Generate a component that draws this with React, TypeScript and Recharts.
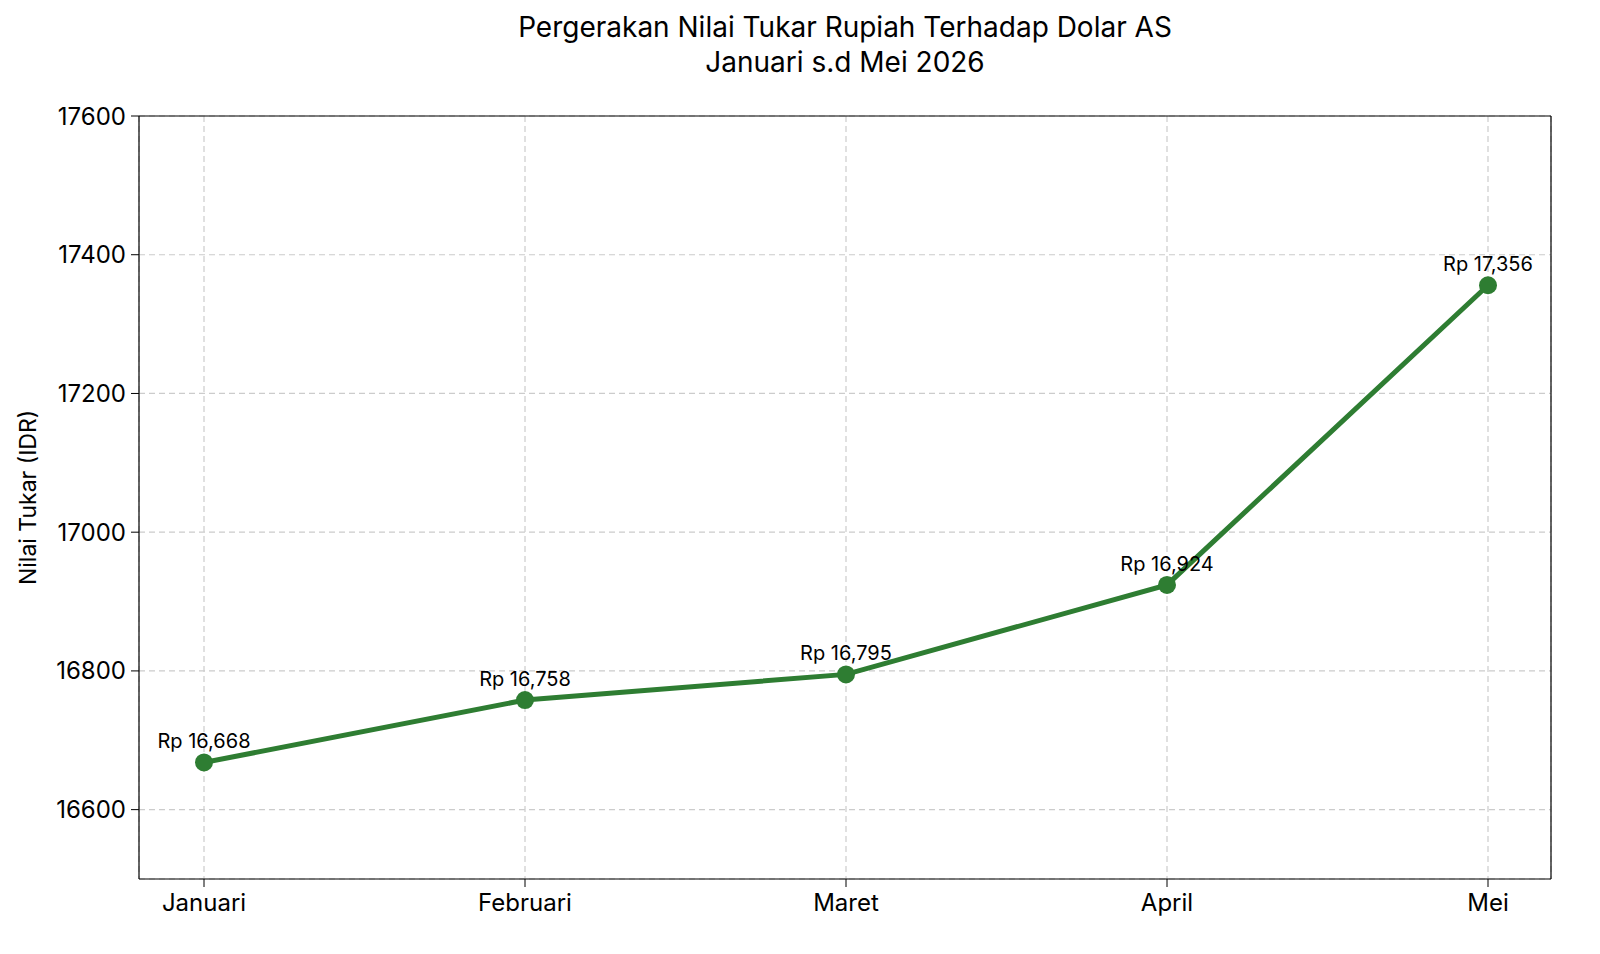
import { LineChart, Line, XAxis, YAxis, CartesianGrid, LabelList } from 'recharts'

const months = ['Januari', 'Februari', 'Maret', 'April', 'Mei']
const rates = [16668, 16758, 16795, 16924, 17356]
const yTicks = [16600, 16800, 17000, 17200, 17400, 17600]

const data = months.map((month, i) => ({ month, rate: rates[i] }))

const FONT = 'Inter, "Noto Sans", sans-serif'
const GREEN = '#2e7d32'

const fmt = (v: number) => 'Rp ' + v.toLocaleString('en-US')

export default function App() {
  return (
    <div style={{ position: 'absolute', left: 0, top: 0, width: 1600, height: 954, background: '#fff', fontFamily: FONT }}>
      <div style={{ position: 'absolute', left: 0, width: 1690, top: 10, textAlign: 'center', fontSize: 28, lineHeight: '35px', color: '#000' }}>
        Pergerakan Nilai Tukar Rupiah Terhadap Dolar AS
        <br />
        Januari s.d Mei 2026
      </div>
      <LineChart width={1600} height={954} data={data} margin={{ top: 115, right: 48, bottom: 35, left: 59 }}>
        <CartesianGrid stroke="#cccccc" strokeDasharray="6 4" strokeWidth={1.2} />
        <XAxis
          dataKey="month"
          padding={{ left: 65, right: 63 }}
          height={40}
          tick={{ fontSize: 24, fill: '#000', fontFamily: FONT }}
          tickSize={8}
          tickMargin={7}
          tickLine={{ stroke: '#000' }}
          axisLine={{ stroke: '#000', strokeWidth: 1.2 }}
        />
        <XAxis xAxisId="top" orientation="top" dataKey="month" height={1} tick={false} tickLine={false} axisLine={{ stroke: '#000', strokeWidth: 1.2 }} />
        <YAxis
          domain={[16500, 17600]}
          ticks={yTicks}
          width={80}
          tick={{ fontSize: 24, fill: '#000', fontFamily: FONT }}
          tickSize={8}
          tickMargin={5}
          tickLine={{ stroke: '#000' }}
          axisLine={{ stroke: '#000', strokeWidth: 1.2 }}
          label={{ value: 'Nilai Tukar (IDR)', angle: -90, position: 'insideLeft', offset: -31, style: { fontSize: 23, fill: '#000', fontFamily: FONT, textAnchor: 'middle' } }}
        />
        <YAxis yAxisId="right" orientation="right" domain={[16500, 17600]} width={1} tick={false} tickLine={false} axisLine={{ stroke: '#000', strokeWidth: 1.2 }} />
        <Line
          dataKey="rate"
          stroke={GREEN}
          strokeWidth={5}
          dot={{ r: 9, fill: GREEN, stroke: GREEN, strokeWidth: 0 }}
          isAnimationActive={false}
        >
          <LabelList dataKey="rate" position="top" offset={14} formatter={(v: any) => fmt(v as number)} style={{ fontSize: 20, fill: '#000', fontFamily: FONT }} />
        </Line>
      </LineChart>
    </div>
  )
}
